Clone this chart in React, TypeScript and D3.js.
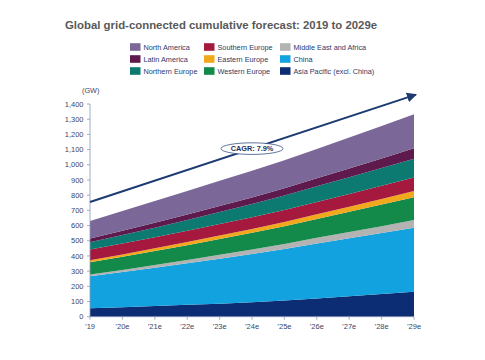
import React from "react";
import * as d3 from "d3";

const years = ["’19", "’20e", "’21e", "’22e", "’23e", "’24e", "’25e", "’26e", "’27e", "’28e", "’29e"];
const seriesNames = [
  "Asia Pacific (excl. China)",
  "China",
  "Middle East and Africa",
  "Western Europe",
  "Eastern Europe",
  "Southern Europe",
  "Northern Europe",
  "Latin America",
  "North America",
];
const asiaPacific = [55, 62, 70, 78, 86, 95, 106, 120, 134, 149, 164];
const china = [212, 232, 253, 274, 296, 318, 340, 362, 382, 402, 422];
const middleEastAfrica = [11, 14, 17, 21, 25, 29, 33, 37, 41, 45, 50];
const westernEurope = [80, 86, 92, 98, 104, 110, 117, 124, 133, 142, 151];
const easternEurope = [14, 16, 18, 20, 23, 25, 28, 31, 34, 37, 40];
const southernEurope = [71, 72, 73, 74, 76, 77, 79, 81, 84, 87, 90];
const northernEurope = [47, 55, 63, 71, 79, 87, 95, 103, 110, 117, 123];
const latinAmerica = [24, 28, 32, 36, 40, 44, 48, 53, 58, 63, 68];
const northAmerica = [116, 130, 143, 155, 166, 176, 184, 192, 203, 214, 225];
const yTicks = [0, 100, 200, 300, 400, 500, 600, 700, 800, 900, 1000, 1100, 1200, 1300, 1400];
const arrowStart = 755;
const arrowEnd = 1462;
const cagrLabel = "CAGR: 7.9%";

const seriesValues = [
  asiaPacific, china, middleEastAfrica, westernEurope, easternEurope,
  southernEurope, northernEurope, latinAmerica, northAmerica,
];
const colors: Record<string, string> = {
  "North America": "#7b6898",
  "Latin America": "#5e1a4c",
  "Northern Europe": "#0d7a72",
  "Southern Europe": "#a6193f",
  "Eastern Europe": "#f2a81d",
  "Western Europe": "#13894a",
  "Middle East and Africa": "#b3b3b3",
  "China": "#12a2df",
  "Asia Pacific (excl. China)": "#0c2d73",
};
const legendColumns = [
  ["North America", "Latin America", "Northern Europe"],
  ["Southern Europe", "Eastern Europe", "Western Europe"],
  ["Middle East and Africa", "China", "Asia Pacific (excl. China)"],
];

export default function App() {
  const W = 485, H = 360;
  const x0 = 90, x1 = 414, yb = 316.7, yt = 104;
  const x = d3.scalePoint<number>().domain(d3.range(years.length)).range([x0, x1]);
  const y = d3.scaleLinear().domain([0, 1400]).range([yb, yt]);

  const table = years.map((_, i) => {
    const row: Record<string, number> = { i };
    seriesNames.forEach((n, k) => (row[n] = seriesValues[k][i]));
    return row;
  });
  const stack = d3.stack<Record<string, number>>().keys(seriesNames)(table);
  const area = d3
    .area<d3.SeriesPoint<Record<string, number>>>()
    .x((d) => x(d.data.i) as number)
    .y0((d) => y(d[0]))
    .y1((d) => y(d[1]));

  const font = "'Liberation Sans', Arial, sans-serif";
  const tickColor = "#3b4666";
  const axisColor = "#8c9ab5";
  const navy = "#1d3a72";

  const ax1 = x(0) as number, ay1 = y(arrowStart);
  const ax2 = (x(years.length - 1) as number) + 2, ay2 = y(arrowEnd);
  const cx = x(5) as number;
  const cy = ay1 + ((cx - ax1) / (ax2 - ax1)) * (ay2 - ay1);

  const legX = [130, 204, 280];
  const legY = [47, 59, 71];

  return (
    <svg width={W} height={H} style={{ position: "absolute", left: 0, top: 0, background: "#fff" }}>
      <defs>
        <marker id="arr" viewBox="0 0 10 10" refX="9" refY="5" markerWidth="5" markerHeight="5" orient="auto">
          <path d="M0,0 L10,5 L0,10 z" fill={navy} />
        </marker>
      </defs>
      <text x={65} y={29} fontFamily={font} fontWeight="bold" fontSize={11.4} fill="#595959">
        Global grid-connected cumulative forecast: 2019 to 2029e
      </text>
      {legendColumns.map((col, ci) =>
        col.map((name, ri) => (
          <g key={name}>
            <rect x={legX[ci]} y={legY[ri] - 3.8} width={10.5} height={7.6} fill={colors[name]} />
            <text x={legX[ci] + 13.5} y={legY[ri] + 2.6} fontFamily={font} fontSize={7.3} fill="#2a3a6a">
              {name}
            </text>
          </g>
        ))
      )}
      <text x={82} y={93} fontFamily={font} fontSize={7.3} fill={tickColor}>(GW)</text>

      {stack.map((s) => (
        <path key={s.key} d={area(s) || ""} fill={colors[s.key]} />
      ))}

      <line x1={x0} x2={x0} y1={yt} y2={yb} stroke={axisColor} strokeWidth={0.8} />
      {yTicks.map((t) => (
        <g key={t}>
          <line x1={x0 - 3} x2={x0} y1={y(t)} y2={y(t)} stroke={axisColor} strokeWidth={0.8} />
          <text x={x0 - 6.5} y={y(t) + 2.6} textAnchor="end" fontFamily={font} fontSize={7.5} fill={tickColor}>
            {d3.format(",")(t)}
          </text>
        </g>
      ))}
      <line x1={x0} x2={x1} y1={yb} y2={yb} stroke={axisColor} strokeWidth={0.8} />
      {years.map((lbl, i) => (
        <g key={lbl}>
          <line x1={x(i) as number} x2={x(i) as number} y1={yb} y2={yb + 3} stroke={axisColor} strokeWidth={0.8} />
          <text x={x(i) as number} y={yb + 12} textAnchor="middle" fontFamily={font} fontSize={7.5} fill={tickColor}>
            {lbl}
          </text>
        </g>
      ))}

      <line x1={ax1} y1={ay1} x2={ax2} y2={ay2} stroke={navy} strokeWidth={2} markerEnd="url(#arr)" />
      <ellipse cx={cx} cy={cy} rx={31} ry={5.8} fill="#fff" stroke={navy} strokeWidth={0.7} />
      <text x={cx} y={cy + 2.6} textAnchor="middle" fontFamily={font} fontWeight="bold" fontSize={7.3} fill="#1d2d5a">
        {cagrLabel}
      </text>
    </svg>
  );
}
